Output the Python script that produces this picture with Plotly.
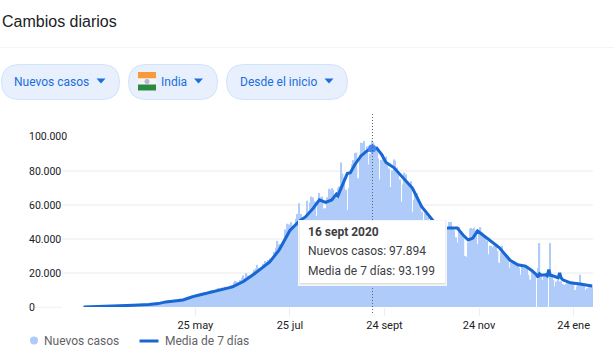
import plotly.graph_objects as go
import pandas as pd

W, H = 614, 354

# Daily new cases, 14 Mar 2020 - 5 Feb 2021
mar = [20, 15, 15, 20, 30, 45, 60, 80, 70, 90, 80, 100, 80, 120, 110, 140, 150, 170]
apr = [250, 380, 450, 500, 550, 600, 500, 650, 700, 850, 900, 1000, 1100, 1000, 1000,
       1000, 1100, 1000, 1300, 1300, 1400, 1500, 1500, 1600, 1800, 1700, 1500, 1600, 1700, 1900]
may = [2300, 2400, 2600, 3000, 2800, 3100, 3500, 3300, 3600, 3600, 3500, 3700, 3600, 3900, 4800,
       4900, 4700, 5200, 5600, 6000, 6500, 6700, 6900, 6400, 6600, 7400, 7100, 7900, 8300, 8400, 8800]
jun = [8300, 8800, 9100, 9800, 9900, 10000, 9900, 10200, 11200, 10800, 11400, 10700, 11900, 11500, 10700,
       11000, 12900, 13000, 14500, 15400, 14800, 14200, 15900, 16900, 18500, 17000, 19900, 18500, 18000, 18800]
jul = [19100, 21900, 22700, 24800, 23000, 22200, 23100, 25400, 27000, 26500, 27700, 28500, 28200, 29400, 32500,
       34900, 38900, 36900, 36800, 37100, 39200, 45600, 48900, 48600, 48600, 49900, 46500, 47700, 51900, 54700, 61000]
ago = [54700, 52800, 50600, 52000, 62500, 56300, 61500, 65000, 64400, 62000, 53600, 60900, 67000, 64500, 65000,
       57900, 58000, 64500, 69600, 68900, 70000, 69000, 65000, 67000, 70000, 71000, 85000, 78500, 76000, 69000, 57000]
sep = [69900, 78300, 83900, 86400, 90600, 90800, 75800, 89700, 96600, 96500, 97600, 92100, 94400, 83800, 90100,
       97894, 96800, 93300, 92600, 87400, 75000, 86500, 90000, 86000, 88600, 85400, 81500, 70600, 80500, 86800]
oct_ = [86000, 82000, 79000, 75000, 62000, 72000, 79000, 78000, 73000, 73000, 74000, 56000, 63000, 67000, 67000,
        63000, 61000, 56000, 46000, 55000, 54000, 53000, 50000, 50000, 46000, 36000, 43000, 50000, 48000, 48000, 46000]
nov = [45000, 38000, 38000, 47000, 50000, 50000, 46000, 45000, 41000, 38000, 47000, 44000, 44000, 41000, 30000,
       29500, 38000, 46000, 46500, 46000, 46500, 45000, 37000, 44000, 47000, 44000, 42000, 41000, 39000, 31000]
dic = [36000, 36000, 35000, 36000, 37000, 33000, 26000, 32000, 36000, 31000, 30000, 30000, 27000, 23000, 26000,
       27000, 25000, 25000, 25000, 23000, 19000, 24000, 23000, 24000, 23000, 19000, 16000, 21000, 21000, 20000, 0]
ene = [23000, 37600, 18000, 16000, 18000, 20000, 18000, 0, 37600, 18000, 16000, 12000, 15000, 16000, 15000,
       15000, 13500, 13000, 13500, 15000, 14500, 14000, 14000, 14000, 10000, 12000, 13500, 19000, 14500, 13500, 13000]
feb = [10000, 11000, 12500, 12500, 12000]
new_cases = mar + apr + may + jun + jul + ago + sep + oct_ + nov + dic + ene + feb
case_dates = pd.date_range("2020-03-14", periods=len(new_cases)).strftime("%Y-%m-%d").tolist()

# 7-day average
avg_dates = ["2020-03-14", "2020-04-01", "2020-04-15", "2020-04-25", "2020-05-01", "2020-05-06", "2020-05-11",
             "2020-05-17", "2020-05-25", "2020-06-01", "2020-06-10", "2020-06-18", "2020-06-25", "2020-07-01",
             "2020-07-12", "2020-07-18", "2020-07-25", "2020-07-31", "2020-08-04", "2020-08-09", "2020-08-13",
             "2020-08-17", "2020-08-21", "2020-08-24", "2020-08-25", "2020-08-29", "2020-08-31", "2020-09-02",
             "2020-09-05", "2020-09-09", "2020-09-13", "2020-09-16", "2020-09-19", "2020-09-22", "2020-09-25",
             "2020-09-30", "2020-10-04", "2020-10-08", "2020-10-12", "2020-10-18", "2020-10-26", "2020-11-01",
             "2020-11-05", "2020-11-10", "2020-11-14", "2020-11-17", "2020-11-20", "2020-11-23", "2020-11-29",
             "2020-12-07", "2020-12-14", "2020-12-19", "2020-12-24", "2020-12-28", "2020-12-31", "2021-01-01",
             "2021-01-02", "2021-01-03", "2021-01-06", "2021-01-07", "2021-01-08", "2021-01-09", "2021-01-10",
             "2021-01-14", "2021-01-15", "2021-01-16", "2021-01-17", "2021-01-22", "2021-01-28", "2021-02-05"]
avg_values = [20, 450, 1000, 1500, 2000, 3000, 3500, 4100, 6500, 8000, 10000, 11800, 15000, 18800,
              26500, 33500, 45000, 50500, 53000, 58000, 63000, 61500, 63000, 66500, 65500, 74000, 78500, 79000,
              84000, 89000, 92000, 93199, 93500, 90000, 85000,
              82000, 78000, 73500, 70000, 59000, 50000, 46500,
              46500, 46500, 42000, 39400, 40500, 44700, 40600,
              35000, 27500, 24800, 24000, 21500, 19000, 17600,
              19500, 18700, 19000, 18400, 22000, 18600, 18500,
              17200, 20000, 17000, 16000, 14200, 13500, 12300]
y_ticks = [0, 20000, 40000, 60000, 80000, 100000]
y_labels = ["0", "20.000", "40.000", "60.000", "80.000", "100.000"]
x_ticks = ["2020-05-25", "2020-07-25", "2020-09-24", "2020-11-24", "2021-01-24"]
x_labels = ["25 may", "25 jul", "24 sept", "24 nov", "24 ene"]
hover_date = "2020-09-16"
hover_avg = 93199

FONT = "Roboto"
BAR = "#aecbfa"
LINE = "#1967d2"
BLUE = "#1a6fdc"
GREY = "#5f6368"
INK = "#202124"

fx = lambda p: p / W
fy = lambda p: 1 - p / H

shapes, notes = [], []


def rect(x0, y0, x1, y1, fill, line=None, lw=0):
    shapes.append(dict(type="rect", xref="paper", yref="paper", x0=fx(x0), x1=fx(x1), y0=fy(y0), y1=fy(y1),
                       fillcolor=fill, line=dict(color=line or fill, width=lw), layer="above"))


def text(x, y, s, size=12, color=INK, anchor="left", family=FONT):
    notes.append(dict(xref="paper", yref="paper", x=fx(x), y=fy(y), text=s, showarrow=False, xanchor=anchor,
                      yanchor="middle", xshift=0, align="left", borderpad=0,
                      font=dict(family=family, size=size, color=color)))


def pill(x0, x1, y0, y1):
    r = (y1 - y0) / 2
    a, b, t, u = fx(x0), fx(x1), fy(y0), fy(y1)
    rx, ry = r / W, r / H
    path = (f"M {a + rx} {t} L {b - rx} {t} Q {b} {t} {b} {(t + u) / 2} Q {b} {u} {b - rx} {u} "
            f"L {a + rx} {u} Q {a} {u} {a} {(t + u) / 2} Q {a} {t} {a + rx} {t} Z")
    shapes.append(dict(type="path", xref="paper", yref="paper", path=path, fillcolor="#e8f0fe",
                       line=dict(color="#d2e3fc", width=1), layer="above"))


def caret(cx, cy):
    path = f"M {fx(cx - 4.5)} {fy(cy - 2.5)} L {fx(cx + 4.5)} {fy(cy - 2.5)} L {fx(cx)} {fy(cy + 2.5)} Z"
    shapes.append(dict(type="path", xref="paper", yref="paper", path=path, fillcolor=BLUE,
                       line=dict(width=0), layer="above"))


# header
text(1, 22, "Cambios diarios", size=16, color=INK, family="Liberation Sans")
rect(0, 47, W, 47.6, "#e8eaed")

# chips
pill(1.5, 119.5, 64.5, 99.5)
pill(128.5, 217.5, 64.5, 99.5)
pill(226.5, 347.5, 64.5, 99.5)
text(12.5, 82, "Nuevos casos", size=12, color=BLUE)
text(160, 82, "India", size=12, color=BLUE)
text(238.5, 82, "Desde el inicio", size=12, color=BLUE)
caret(101, 81)
caret(198.5, 81)
caret(329, 81)
rect(138, 72, 156, 78.5, "#f79a3c")
rect(138, 78.5, 156, 84.5, "#f4f4f4")
rect(138, 84.5, 156, 90.5, "#2a8a3c")
shapes.append(dict(type="circle", xref="paper", yref="paper", x0=fx(144.5), x1=fx(149.5), y0=fy(79), y1=fy(84),
                   fillcolor="#b9b4d8", line=dict(width=0), layer="above"))

# y labels (left aligned as in the reference)
for v, s in zip(y_ticks, y_labels):
    text(28, 307 - v * 170 / 100000, s, size=10.5, color=INK)
rect(35, 306.6, 62, 308, "#f5f5f5")

# hover guide
shapes.append(dict(type="line", xref="paper", yref="paper", x0=fx(372.5), x1=fx(372.5), y0=fy(114), y1=fy(314),
                   line=dict(color="#5f6368", width=1, dash="1px,2px"), layer="above"))

# tooltip
for g, c in ((3, "#f6f6f6"), (2, "#eeeeee"), (1, "#dddddd")):
    rect(300 - g + 1, 221 - g + 2, 445 + g - 1, 283 + g, c)
rect(300, 221, 445, 283, "#ffffff")
text(306.5, 232, "<b>16 sept 2020</b>", size=12, color="#3c4043")
text(306.5, 251, "Nuevos casos: 97.894", size=12, color="#3c4043")
text(306.5, 270.5, "Media de 7 días: 93.199", size=12, color="#3c4043")

# legend
shapes.append(dict(type="circle", xref="paper", yref="paper", x0=fx(30), x1=fx(38), y0=fy(336.5), y1=fy(344.5),
                   fillcolor=BAR, line=dict(width=0), layer="above"))
text(42.5, 341, "Nuevos casos", size=12, color=GREY)
rect(139.5, 339.5, 158.5, 342.5, LINE)
text(163.5, 341, "Media de 7 días", size=12, color=GREY)

fig = go.Figure()
fig.add_bar(x=case_dates, y=new_cases, marker=dict(color=BAR, line=dict(width=0)), name="Nuevos casos")
fig.add_scatter(x=avg_dates, y=avg_values, mode="lines", line=dict(color=LINE, width=3), name="Media de 7 días")
fig.add_scatter(x=[hover_date], y=[hover_avg], mode="markers", marker=dict(color="#4285f4", size=8),
                showlegend=False)

fig.update_layout(
    width=W, height=H, margin=dict(l=0, r=0, t=0, b=0), paper_bgcolor="white", plot_bgcolor="white",
    showlegend=False, bargap=0.14, shapes=shapes, annotations=notes,
    xaxis=dict(domain=[fx(62), fx(593)], type="date", range=["2020-02-29 00:00", "2021-02-05 12:00"],
               tickmode="array", tickvals=x_ticks, ticktext=x_labels, ticks="outside", ticklen=8, tickwidth=1,
               tickcolor="#eeeeee", showgrid=False, zeroline=False, showline=False, anchor="y",
               tickfont=dict(family=FONT, size=11, color=INK)),
    yaxis=dict(domain=[fy(307), fy(137)], range=[0, 100000], tickmode="array", tickvals=y_ticks,
               showticklabels=False, gridcolor="#f5f5f5", gridwidth=1.5, zeroline=False, showline=False, ticks=""),
)
fig.write_html("out.html", config=dict(displayModeBar=False),
               post_script="document.body.style.margin='0';document.body.style.overflow='hidden';")
